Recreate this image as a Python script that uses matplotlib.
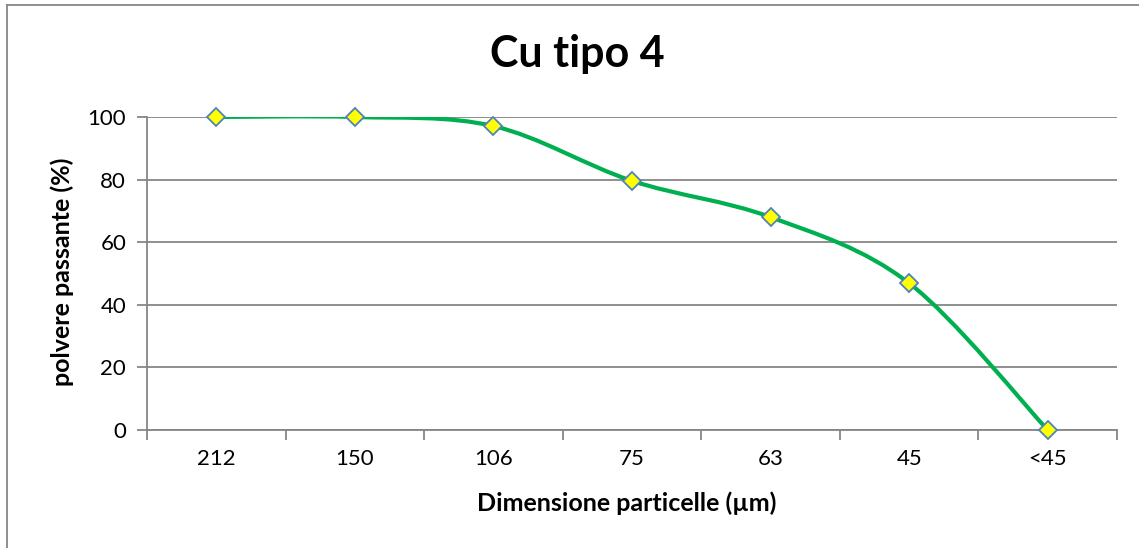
import matplotlib
matplotlib.use("Agg")
import matplotlib.pyplot as plt
import numpy as np
from matplotlib.path import Path
from matplotlib.patches import PathPatch
from matplotlib.lines import Line2D

# Particle size classes (µm) and cumulative passing powder (%)
categories = ["212", "150", "106", "75", "63", "45", "<45"]
passing = [100, 100, 97.1, 79.6, 68.0, 46.9, 0]
y_ticks = [0, 20, 40, 60, 80, 100]

title = "Cu tipo 4"
x_label = "Dimensione particelle (µm)"
y_label = "polvere passante (%)"

W, H = 1139, 548
fig = plt.figure(figsize=(W / 100, H / 100), dpi=100)
plt.rcParams["font.family"] = ["Lato", "DejaVu Sans"]

ax = fig.add_axes([147 / W, 1 - 430 / H, (1117 - 147) / W, (430 - 117) / H])

grey = "#868686"
x = np.arange(len(categories))
y = np.array(passing, dtype=float)

# Smoothed curve: Catmull-Rom segments as cubic Bezier curves
pts = np.column_stack([x, y])
ext = np.vstack([pts[0], pts, pts[-1]])
verts = [tuple(pts[0])]
codes = [Path.MOVETO]
for i in range(len(pts) - 1):
    p0, p1, p2, p3 = ext[i], ext[i + 1], ext[i + 2], ext[i + 3]
    c1 = p1 + (p2 - p0) / 6.0
    c2 = p2 - (p3 - p1) / 6.0
    verts += [tuple(c1), tuple(c2), tuple(p2)]
    codes += [Path.CURVE4] * 3
curve = PathPatch(Path(verts, codes), facecolor="none", edgecolor="#00B050",
                  lw=3.0, capstyle="round", joinstyle="round", zorder=3)
ax.add_patch(curve)

ax.plot(x, y, linestyle="none", marker="D", markersize=9.5,
        markerfacecolor="#FFFF00", markeredgecolor="#4F81BD",
        markeredgewidth=1.3, zorder=4, clip_on=False)

ax.set_xlim(-0.5, len(categories) - 0.5)
ax.set_ylim(0, 100)

ax.set_yticks(y_ticks)
ax.set_yticklabels([str(v) for v in y_ticks], fontsize=16)
ax.yaxis.grid(True, color=grey, lw=1.3)
ax.set_axisbelow(True)

ax.set_xticks(x)
ax.set_xticklabels(categories, fontsize=16)
ax.set_xticks(np.arange(-0.5, len(categories)), minor=True)
ax.tick_params(axis="x", which="major", length=0, pad=14)
ax.tick_params(axis="x", which="minor", length=7, width=1.3, color=grey, direction="out")
ax.tick_params(axis="y", length=7, width=1.3, color=grey, direction="out", pad=8)

for side in ("top", "right"):
    ax.spines[side].set_visible(False)
for side in ("left", "bottom"):
    ax.spines[side].set_color(grey)
    ax.spines[side].set_linewidth(1.3)

fig.text(577 / W, 1 - 54 / H, title, fontsize=31, fontweight="bold",
         ha="center", va="center")
fig.text(627 / W, 1 - 503 / H, x_label, fontsize=18, fontweight="bold",
         ha="center", va="center")
fig.text(62 / W, 1 - 272 / H, y_label, fontsize=18, fontweight="bold",
         ha="center", va="center", rotation=90)

# Chart frame
fig.add_artist(Line2D([7 / W, 1.0], [1 - 5 / H, 1 - 5 / H], color=grey, lw=1.3,
                      transform=fig.transFigure))
fig.add_artist(Line2D([7 / W, 7 / W], [0.0, 1 - 5 / H], color=grey, lw=1.3,
                      transform=fig.transFigure))

fig.savefig("out.png", dpi=100)
